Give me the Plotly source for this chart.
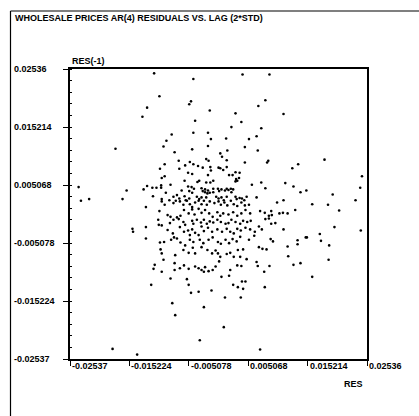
import plotly.graph_objects as go

# RES (x) and RES(-1) (y) residual pairs
res = [
-0.0176,-0.0239,-0.0235,-0.0221,-0.0157,-0.0164,-0.0181,-0.0139,
0.0181,0.0136,0.0126,0.0128,0.0140,0.0150,0.0245,0.0242,0.0234,0.0195,0.0160,0.0187,0.0206,0.0131,
0.0198,0.0243,0.0173,0.0175,0.0149,0.0151,0.0135,0.0135,0.0189,0.0140,0.0128,0.0188,0.0160,
0.0118,0.0119,0.0114,0.0118,0.0111,0.0111,0.0111,0.0100,
-0.0110,-0.0043,0.0041,0.0087,-0.0101,-0.0047,-0.0050,-0.0122,-0.0130,-0.0015,0.0080,0.0068,0.0029,
-0.0040,0.0039,0.0022,0.0073,-0.0080,-0.0043,-0.0018,0.0065,-0.0089,-0.0013,0.0013,0.0052,-0.0094,
-0.0018,-0.0045,0.0045,0.0067,-0.0075,0.0015,0.0003,0.0006,0.0014,-0.0021,-0.0017,-0.0068,0.0085,
0.0083,0.0045,-0.0092,-0.0049,-0.0043,-0.0035,-0.0027,-0.0057,-0.0067,-0.0100,-0.0014,-0.0013,0.0000,
0.0003,0.0008,0.0014,-0.0052,-0.0045,0.0029,0.0036,-0.0092,-0.0097,-0.0018,0.0018,0.0024,0.0035,
0.0030,0.0029,0.0032,-0.0033,-0.0036,-0.0058,-0.0009,-0.0021,-0.0014,0.0057,0.0073,0.0080,-0.0122,
-0.0128,-0.0113,-0.0106,-0.0098,-0.0098,-0.0082,-0.0063,-0.0052,-0.0046,-0.0042,-0.0050,-0.0045,
-0.0029,-0.0023,-0.0027,-0.0023,-0.0018,-0.0019,-0.0015,-0.0009,-0.0009,-0.0001,0.0001,0.0005,0.0011,
0.0014,0.0017,0.0021,0.0022,0.0025,-0.0090,-0.0112,-0.0077,-0.0071,-0.0067,-0.0097,-0.0058,-0.0056,
-0.0050,-0.0037,-0.0033,-0.0029,-0.0021,-0.0004,0.0000,0.0005,0.0014,0.0029,0.0031,0.0036,0.0040,
0.0048,0.0065,-0.0084,0.0009,0.0044,
-0.0124,-0.0097,-0.0092,-0.0101,-0.0077,-0.0073,-0.0066,-0.0060,-0.0054,-0.0049,-0.0045,-0.0040,
-0.0034,-0.0029,-0.0025,-0.0020,-0.0015,-0.0007,0.0000,0.0004,0.0010,0.0015,0.0021,0.0026,0.0032,
0.0039,0.0045,0.0052,0.0071,0.0079,0.0086,0.0090,0.0104,0.0110,
-0.0087,-0.0082,-0.0071,-0.0065,-0.0059,-0.0051,-0.0045,-0.0041,-0.0034,-0.0029,-0.0023,-0.0016,
-0.0010,-0.0002,0.0003,0.0008,0.0017,0.0025,0.0032,0.0039,0.0046,0.0054,
-0.0103,-0.0102,-0.0097,-0.0083,-0.0077,-0.0068,-0.0060,-0.0057,-0.0045,-0.0043,-0.0037,-0.0030,
-0.0025,-0.0020,-0.0015,-0.0009,-0.0002,0.0004,0.0012,0.0017,0.0022,0.0029,0.0037,0.0042,0.0049,
0.0055,0.0080,0.0086,0.0090,0.0097,0.0091,
-0.0147,-0.0146,-0.0124,-0.0124,-0.0087,-0.0078,-0.0076,-0.0081,-0.0066,-0.0059,-0.0052,-0.0045,
-0.0040,-0.0034,-0.0049,-0.0029,-0.0025,-0.0018,-0.0011,-0.0002,0.0006,0.0014,0.0020,0.0026,0.0032,
0.0038,0.0046,0.0054,0.0062,0.0069,0.0074,
-0.0100,-0.0093,-0.0071,-0.0065,-0.0057,-0.0049,-0.0043,-0.0032,-0.0026,-0.0017,-0.0010,-0.0001,
0.0004,0.0012,0.0018,0.0024,0.0031,0.0037,0.0052,0.0061,0.0069,0.0075,0.0082,0.0089,0.0093,
-0.0099,-0.0097,-0.0094,-0.0074,-0.0075,-0.0060,-0.0051,-0.0044,-0.0040,-0.0029,-0.0019,-0.0011,
-0.0005,-0.0001,0.0003,0.0014,0.0020,0.0026,0.0033,0.0042,0.0037,0.0048,0.0065,0.0067,0.0078,0.0087,
-0.0109,-0.0111,-0.0097,-0.0082,-0.0115,-0.0075,-0.0066,-0.0059,-0.0051,-0.0054,-0.0051,-0.0047,
-0.0040,-0.0034,-0.0029,-0.0023,-0.0017,-0.0010,-0.0005,-0.0025,-0.0034,-0.0012,0.0001,0.0005,
0.0020,0.0018,0.0025,0.0033,0.0040,0.0046,0.0042,0.0032,0.0039,0.0079,0.0011,0.0038,
-0.0079,-0.0074,-0.0025,0.0009,-0.0032,0.0071,
]
res_lag = [
0.0114,0.0047,0.0023,0.0026,0.0041,0.0026,-0.0236,-0.0246,
0.0095,0.0087,0.0080,0.0048,0.0038,0.0041,0.0066,0.0046,0.0024,0.0034,0.0017,0.0016,0.0006,0.0007,
-0.0023,-0.0029,-0.0035,-0.0047,-0.0041,-0.0041,-0.0046,-0.0053,-0.0055,-0.0086,-0.0089,-0.0080,-0.0110,
-0.0057,-0.0074,0.0054,0.0001,-0.0027,0.0175,0.0024,0.0020,
0.0246,0.0236,0.0244,0.0244,0.0206,0.0197,0.0192,0.0186,0.0170,0.0181,0.0199,0.0189,0.0176,
0.0163,0.0161,0.0152,0.0150,0.0139,0.0142,0.0142,0.0136,0.0128,0.0131,0.0132,0.0131,0.0118,
0.0119,0.0113,0.0117,0.0111,0.0108,0.0111,0.0106,0.0100,0.0094,0.0096,0.0093,0.0093,0.0093,
0.0090,0.0090,0.0087,0.0091,0.0087,0.0084,0.0081,0.0085,0.0079,0.0079,0.0082,0.0076,0.0081,
0.0080,0.0077,0.0082,0.0072,0.0070,0.0073,0.0072,0.0066,0.0063,0.0068,0.0068,0.0068,0.0063,
0.0061,0.0057,0.0058,0.0058,0.0056,0.0058,0.0058,0.0055,0.0055,0.0051,0.0055,0.0045,0.0049,
0.0043,0.0046,0.0046,0.0050,0.0046,0.0051,0.0041,0.0048,0.0047,0.0044,0.0040,0.0037,
0.0045,0.0043,0.0040,0.0038,0.0041,0.0036,0.0037,0.0044,0.0038,0.0044,0.0040,0.0043,0.0041,
0.0044,0.0042,0.0044,0.0038,0.0043,0.0037,0.0031,0.0030,0.0033,0.0027,0.0026,0.0031,0.0024,
0.0027,0.0030,0.0026,0.0029,0.0029,0.0030,0.0027,0.0029,0.0030,0.0030,0.0026,0.0028,0.0027,
0.0030,0.0029,0.0024,0.0024,0.0024,
0.0012,0.0022,0.0016,0.0005,0.0019,0.0023,0.0022,0.0016,0.0023,0.0017,0.0012,0.0020,
0.0023,0.0017,0.0023,0.0016,0.0022,0.0019,0.0022,0.0016,0.0020,0.0015,0.0023,0.0017,0.0014,
0.0020,0.0015,0.0016,0.0005,0.0002,-0.0003,0.0005,0.0001,0.0002,
-0.0002,-0.0005,-0.0006,-0.0003,0.0007,0.0001,0.0008,-0.0001,0.0009,0.0002,0.0007,0.0001,
-0.0005,0.0003,-0.0003,0.0001,-0.0001,0.0003,-0.0003,0.0001,0.0007,0.0001,
-0.0010,-0.0019,-0.0020,-0.0016,-0.0010,-0.0009,-0.0014,-0.0019,-0.0012,-0.0017,-0.0010,-0.0015,
-0.0010,-0.0017,-0.0013,-0.0015,-0.0010,-0.0014,-0.0017,-0.0016,-0.0010,-0.0014,-0.0017,-0.0012,-0.0014,
-0.0012,-0.0009,-0.0008,-0.0017,-0.0016,-0.0002,
-0.0026,-0.0031,-0.0023,-0.0043,-0.0028,-0.0034,-0.0041,-0.0045,-0.0023,-0.0031,-0.0029,-0.0027,
-0.0033,-0.0037,-0.0037,-0.0022,-0.0030,-0.0024,-0.0031,-0.0027,-0.0031,-0.0026,-0.0031,-0.0034,-0.0026,
-0.0029,-0.0024,-0.0027,-0.0031,-0.0022,-0.0027,
-0.0050,-0.0049,-0.0043,-0.0050,-0.0055,-0.0045,-0.0049,-0.0045,-0.0051,-0.0045,-0.0041,-0.0049,
-0.0052,-0.0045,-0.0051,-0.0044,-0.0048,-0.0040,-0.0045,-0.0038,-0.0058,-0.0061,-0.0062,-0.0044,-0.0048,
-0.0062,-0.0069,-0.0080,-0.0072,-0.0086,-0.0063,-0.0068,-0.0059,-0.0069,-0.0058,-0.0063,-0.0069,
-0.0064,-0.0069,-0.0075,-0.0070,-0.0068,-0.0075,-0.0063,-0.0062,-0.0075,-0.0079,-0.0084,-0.0091,-0.0101,-0.0091,
-0.0089,-0.0096,-0.0101,-0.0113,-0.0124,-0.0098,-0.0095,-0.0090,-0.0096,-0.0114,-0.0124,-0.0138,
-0.0092,-0.0095,-0.0098,-0.0093,-0.0100,-0.0098,-0.0092,-0.0101,-0.0136,-0.0134,-0.0083,-0.0110,
-0.0098,-0.0108,-0.0124,-0.0128,-0.0118,-0.0118,-0.0131,-0.0090,-0.0091,-0.0128,-0.0146,-0.0146,
-0.0156,-0.0177,-0.0163,-0.0198,-0.0221,-0.0237,
]

tick_vals = [-0.02537, -0.015224, -0.005078, 0.005068, 0.015214, 0.02536]
tick_text = ["-0.02537", "-0.015224", "-0.005078", "0.005068", "0.015214", "0.02536"]

title_text = "WHOLESALE PRICES AR(4) RESIDUALS VS. LAG (2*STD)"
x_title = "RES"
y_title = "RES(-1)"

n = min(len(res), len(res_lag))
FONT = "Liberation Sans"

fig = go.Figure()
fig.add_trace(go.Scatter(
    x=res[:n], y=res_lag[:n], mode="markers",
    marker=dict(size=2.6, color="black", symbol="circle"),
    showlegend=False, hoverinfo="skip",
))

W, H = 419, 416
L, R, T, B = 70, 367, 69, 359
pw, ph = R - L, B - T

def px(xp):
    return (xp - L) / pw

def py(yp):
    return (B - yp) / ph

def bold(s):
    return "<b>" + s + "</b>"

rng = [tick_vals[0], tick_vals[-1]]
span = (tick_vals[1] - tick_vals[0]) / 5
axis_common = dict(
    range=rng, showgrid=False, zeroline=False, showline=True, linecolor="black",
    linewidth=1.5, mirror=True, ticks="outside", ticklen=5, tickwidth=1.2,
    tickcolor="black", tickvals=tick_vals, showticklabels=False,
)
fig.update_layout(
    width=W, height=H, paper_bgcolor="white", plot_bgcolor="white",
    margin=dict(l=L, r=W - R, t=T, b=H - B),
    xaxis=axis_common,
    yaxis=dict(axis_common, minor=dict(ticks="inside", ticklen=2, tickcolor="black",
                                       tick0=tick_vals[0], dtick=span)),
)

tick_font = dict(family=FONT, size=9, color="black")
annotations = []
for v, t in zip(tick_vals, tick_text):
    annotations.append(dict(x=v, y=py(366), xref="x", yref="paper", text=bold(t), showarrow=False,
                            xanchor="left", yanchor="middle", font=tick_font))
    annotations.append(dict(x=px(12), y=v, xref="paper", yref="y", text=bold(t),
                            showarrow=False, xanchor="left", yanchor="middle", font=tick_font))
annotations.append(dict(x=px(13), y=py(18), xref="paper", yref="paper", text=bold(title_text),
                        showarrow=False, xanchor="left", yanchor="middle",
                        font=dict(family=FONT, size=9, color="black")))
annotations.append(dict(x=px(70), y=py(61), xref="paper", yref="paper", text=bold(y_title),
                        showarrow=False, xanchor="left", yanchor="middle", font=tick_font))
annotations.append(dict(x=px(365), y=py(384), xref="paper", yref="paper", text=bold(x_title),
                        showarrow=False, xanchor="right", yanchor="middle", font=tick_font))
fig.update_layout(annotations=annotations)

fig.update_layout(shapes=[
    dict(type="line", xref="paper", yref="paper", x0=px(10.5), x1=px(10.5), y0=py(11), y1=py(416),
         line=dict(color="black", width=1.2)),
    dict(type="line", xref="paper", yref="paper", x0=px(10.5), x1=px(419), y0=py(11), y1=py(11),
         line=dict(color="black", width=1.2)),
])

fig.write_html(
    "out.html",
    config={"displayModeBar": False},
    post_script="document.body.style.margin='0';document.body.style.overflow='hidden';",
)
